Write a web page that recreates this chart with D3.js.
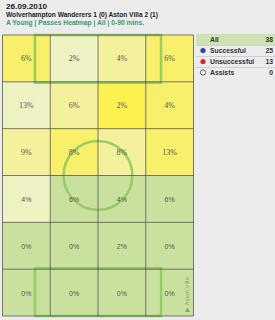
<!DOCTYPE html>
<html lang="en">
<head>
    <meta charset="UTF-8">
    <title>Passes Heatmap</title>
    <script src="https://d3js.org/d3.v7.min.js"></script>
    <style>
        body { margin: 0; background: #ececec; font-family: Arial, "Liberation Sans", sans-serif; }
        svg { display: block; }
    </style>
</head>
<body>
    <svg width="275" height="320"></svg>

    <script>
        // heatmap rows (top = attacking end), values in %
        const columns = [0, 1, 2, 3];
        const rows = [0, 1, 2, 3, 4, 5];
        const percents = [
            [6, 2, 4, 6],
            [13, 6, 2, 4],
            [9, 8, 8, 13],
            [4, 6, 4, 6],
            [0, 0, 2, 0],
            [0, 0, 0, 0]
        ];
        // shade level of each cell as it appears (0 = green ... 4 = bright yellow)
        const shades = [
            [3, 1, 2, 3],
            [1, 2, 4, 3],
            [2, 3, 2, 3],
            [1, 0, 0, 0],
            [0, 0, 0, 0],
            [0, 0, 0, 0]
        ];
        const legendLabels = ["All", "Successful", "Unsuccessful", "Assists"];
        const legendValues = [38, 25, 13, 0];
        const legendDots = [null, "#3a3fa0", "#e8202a", "#ffffff"];

        const headerLines = [
            "26.09.2010",
            "Wolverhampton Wanderers 1 (0) Aston Villa 2 (1)",
            "A Young | Passes Heatmap | All | 0-90 mins."
        ];

        const svg = d3.select("svg");

        const x = d3.scaleBand().domain(columns).range([2.5, 193.5]);
        const y = d3.scaleBand().domain(rows).range([35, 316]);

        // pitch coordinates 0..100 across both axes
        const px = d3.scaleLinear().domain([0, 100]).range([2.5, 193.5]);
        const py = d3.scaleLinear().domain([0, 100]).range([35, 316]);

        const shadeColor = d3.scaleOrdinal()
            .domain([0, 1, 2, 3, 4])
            .range(["#c9e09f", "#eff3c3", "#f4f19c", "#f8ef6b", "#fdf152"]);

        // header (the original font is narrower than Arial, so squeeze to its widths)
        const headerColors = ["#222", "#222", "#3a9a6a"];
        const headerWidths = [41, 152, 138];
        svg.selectAll("text.hdr")
            .data(headerLines)
            .enter()
            .append("text")
            .attr("class", "hdr")
            .attr("x", 6)
            .attr("y", (d, i) => 9 + i * 8)
            .attr("font-size", "7px")
            .attr("font-weight", "bold")
            .attr("fill", (d, i) => headerColors[i])
            .attr("textLength", (d, i) => headerWidths[i])
            .attr("lengthAdjust", "spacingAndGlyphs")
            .text(d => d);

        const cells = [];
        rows.forEach(r => columns.forEach(c => cells.push({r, c, v: percents[r][c], s: shades[r][c]})));

        // cells
        svg.append("g").selectAll("rect")
            .data(cells)
            .enter()
            .append("rect")
            .attr("x", d => x(d.c))
            .attr("y", d => y(d.r))
            .attr("width", x.bandwidth())
            .attr("height", y.bandwidth())
            .attr("fill", d => shadeColor(d.s));

        // pitch markings
        const marks = svg.append("g")
            .attr("fill", "none")
            .attr("stroke", "#8fcb5c")
            .attr("stroke-width", 2.5)
            .attr("opacity", 0.9);
        marks.append("rect")
            .attr("x", px(17)).attr("y", py(0))
            .attr("width", px(83) - px(17)).attr("height", py(17) - py(0));
        marks.append("rect")
            .attr("x", px(17)).attr("y", py(83))
            .attr("width", px(83) - px(17)).attr("height", py(100) - py(83));
        marks.append("circle")
            .attr("cx", px(50)).attr("cy", py(50))
            .attr("r", px(18) - px(0));

        // grid lines
        const grid = svg.append("g")
            .attr("stroke", "#444")
            .attr("stroke-opacity", 0.7)
            .attr("stroke-width", 1);
        columns.concat([4]).forEach(c => {
            const gx = c < 4 ? x(c) : x.range()[1];
            grid.append("line")
                .attr("x1", gx).attr("x2", gx)
                .attr("y1", y.range()[0]).attr("y2", y.range()[1]);
        });
        rows.concat([6]).forEach(r => {
            const gy = r < 6 ? y(r) : y.range()[1];
            grid.append("line")
                .attr("x1", x.range()[0]).attr("x2", x.range()[1])
                .attr("y1", gy).attr("y2", gy);
        });

        // labels
        svg.append("g").selectAll("text")
            .data(cells)
            .enter()
            .append("text")
            .attr("x", d => x(d.c) + x.bandwidth() / 2)
            .attr("y", d => y(d.r) + y.bandwidth() / 2 + 3)
            .attr("text-anchor", "middle")
            .attr("font-family", d => d.r < 3 ? "'Liberation Serif', serif" : "Arial, sans-serif")
            .attr("font-size", d => d.r < 3 ? "8px" : "7px")
            .attr("fill", "#555")
            .text(d => d.v + "%");

        // Aston Villa direction note
        svg.append("text")
            .attr("transform", `translate(${px(97.5)},${py(98.5)}) rotate(-90)`)
            .attr("font-size", "6px")
            .attr("fill", "#8a9a80")
            .text("\u25B6 Aston Villa");

        // legend
        const ly = d3.scaleBand().domain(d3.range(legendLabels.length)).range([34, 78]);
        const legend = svg.append("g");
        legend.append("rect")
            .attr("x", 196).attr("y", ly(0))
            .attr("width", 79).attr("height", ly.bandwidth())
            .attr("fill", "#cfe3b2");
        legend.selectAll("line")
            .data(d3.range(1, legendLabels.length))
            .enter()
            .append("line")
            .attr("x1", 196).attr("x2", 275)
            .attr("y1", d => ly(d) + 0.5).attr("y2", d => ly(d) + 0.5)
            .attr("stroke", "#d0d0d0");
        legend.selectAll("circle")
            .data(legendDots)
            .enter()
            .filter(d => d)
            .append("circle")
            .attr("cx", 203)
            .attr("cy", (d, i) => ly(i + 1) + ly.bandwidth() / 2)
            .attr("r", 2.6)
            .attr("fill", d => d)
            .attr("stroke", d => d === "#ffffff" ? "#333" : "none")
            .attr("stroke-width", 0.8);
        legend.selectAll("text.lab")
            .data(legendLabels)
            .enter()
            .append("text")
            .attr("class", "lab")
            .attr("x", 210)
            .attr("y", (d, i) => ly(i) + ly.bandwidth() / 2 + 2.6)
            .attr("font-size", "6.8px")
            .attr("font-weight", "bold")
            .attr("fill", "#333")
            .text(d => d);
        legend.selectAll("text.val")
            .data(legendValues)
            .enter()
            .append("text")
            .attr("class", "val")
            .attr("x", 273)
            .attr("y", (d, i) => ly(i) + ly.bandwidth() / 2 + 2.6)
            .attr("text-anchor", "end")
            .attr("font-size", "6.8px")
            .attr("font-weight", "bold")
            .attr("fill", "#333")
            .text(d => d);
    </script>
</body>
</html>
